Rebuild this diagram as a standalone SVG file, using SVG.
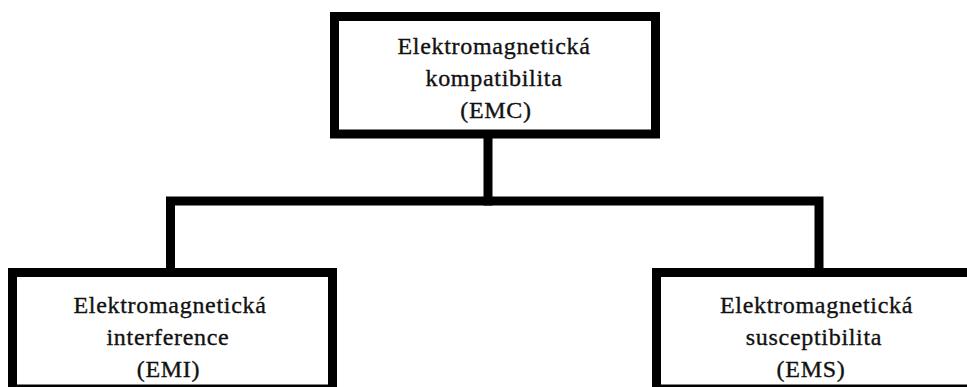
<svg xmlns="http://www.w3.org/2000/svg" width="967" height="387" viewBox="0 0 967 387">
  <style>
    .box { fill: #ffffff; stroke: #000000; stroke-width: 9; }
    .wire { fill: none; stroke: #000000; stroke-width: 9; stroke-linejoin: miter; stroke-linecap: square; }
    .label { font-size: 24px; letter-spacing: 0.7px; fill: #111111; stroke: #111111; stroke-width: 0.35; text-anchor: middle; }
  </style>
  <rect width="967" height="387" fill="#ffffff"/>

  <g id="connectors">
    <polyline class="wire" points="488,134 488,201"/>
    <polyline class="wire" points="170.5,272 170.5,201 819,201 819,272"/>
  </g>

  <g font-family="'Liberation Serif', 'DejaVu Serif', serif">
    <g id="emc">
      <rect class="box" x="334.5" y="16.5" width="321" height="117.5"/>
      <text class="label" x="494" y="54">Elektromagnetická</text>
      <text class="label" x="494" y="86">kompatibilita</text>
      <text class="label" x="496" y="118">(EMC)</text>
    </g>

    <g id="emi">
      <rect class="box" x="12.5" y="272.5" width="320" height="116.5"/>
      <text class="label" x="170" y="312.5">Elektromagnetická</text>
      <text class="label" x="168" y="344.5">interference</text>
      <text class="label" x="168.5" y="376.5">(EMI)</text>
    </g>

    <g id="ems">
      <rect class="box" x="656.5" y="272.5" width="330" height="116.5"/>
      <text class="label" x="816.5" y="312.5">Elektromagnetická</text>
      <text class="label" x="814" y="344.5">susceptibilita</text>
      <text class="label" x="811" y="376.5">(EMS)</text>
    </g>
  </g>
</svg>
